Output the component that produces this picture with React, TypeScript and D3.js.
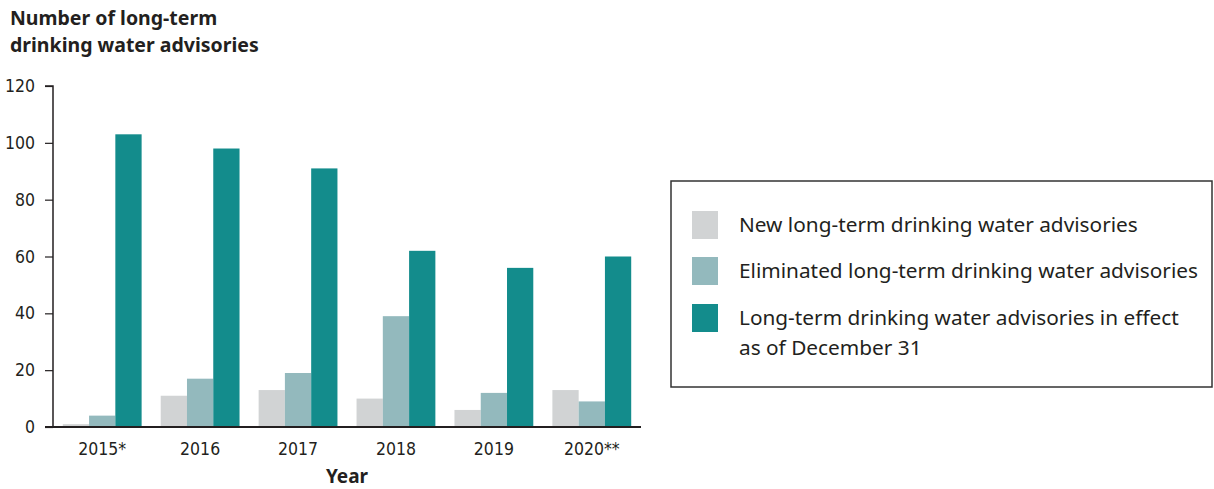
import React, { useEffect, useRef } from 'react';
import * as d3 from 'd3';

// data
const years = ['2015*', '2016', '2017', '2018', '2019', '2020**'];
const newAdvisories = [1, 11, 13, 10, 6, 13];
const eliminatedAdvisories = [4, 17, 19, 39, 12, 9];
const inEffectAdvisories = [103, 98, 91, 62, 56, 60];
const seriesNames = [
  ['New long-term drinking water advisories'],
  ['Eliminated long-term drinking water advisories'],
  ['Long-term drinking water advisories in effect', 'as of December 31'],
];
const yTicks = [0, 20, 40, 60, 80, 100, 120];

const colors = ['#d1d3d4', '#93b9bd', '#138c8c'];
const condensed = '"Liberation Sans Narrow", "DejaVu Sans Condensed", sans-serif';
const sans = '"Noto Sans", "Open Sans", sans-serif';

export default function App() {
  const ref = useRef<SVGSVGElement>(null);

  useEffect(() => {
    const width = 1214;
    const height = 489;
    const left = 53;
    const right = 641;
    const top = 86;
    const bottom = 427;

    const svg = d3.select(ref.current);
    svg.selectAll('*').remove();

    const x0 = d3.scaleBand<string>()
      .domain(years)
      .range([left, right])
      .paddingInner(0.195)
      .paddingOuter(0.1);

    const keys = ['new', 'elim', 'effect'];
    const x1 = d3.scaleBand<string>()
      .domain(keys)
      .range([0, x0.bandwidth()]);

    const y = d3.scaleLinear().domain([0, 120]).range([bottom, top]);

    const series = [newAdvisories, eliminatedAdvisories, inEffectAdvisories];

    // title
    const title = svg.append('text')
      .attr('x', 10)
      .attr('font-family', sans)
      .attr('font-weight', 700)
      .attr('font-size', 19.5)
      .attr('fill', '#231f20');
    title.append('tspan').attr('x', 10).attr('y', 25).text('Number of long-term');
    title.append('tspan').attr('x', 10).attr('y', 52).text('drinking water advisories');

    // bars
    years.forEach((yr, i) => {
      const g = svg.append('g').attr('transform', `translate(${x0(yr)},0)`);
      series.forEach((vals, s) => {
        g.append('rect')
          .attr('x', x1(keys[s])!)
          .attr('y', y(vals[i]))
          .attr('width', x1.bandwidth())
          .attr('height', y(0) - y(vals[i]))
          .attr('fill', colors[s]);
      });
    });

    // y axis
    const yAxis = d3.axisLeft(y).tickValues(yTicks).tickSize(8).tickPadding(10);
    const gy = svg.append('g')
      .attr('transform', `translate(${left},0)`)
      .call(yAxis);
    gy.select('.domain').attr('stroke', '#231f20').attr('stroke-width', 1.5)
      .attr('d', `M-8,${top}H0V${bottom}`);
    gy.selectAll('.tick line').attr('stroke', '#231f20').attr('stroke-width', 1.2);
    gy.selectAll('.tick text')
      .attr('font-family', condensed)
      .attr('font-size', 17.5)
      .attr('fill', '#231f20');

    // x axis
    const xAxis = d3.axisBottom(x0).tickSize(0).tickPadding(16);
    const gx = svg.append('g')
      .attr('transform', `translate(0,${bottom})`)
      .call(xAxis);
    gx.select('.domain').attr('stroke', '#231f20').attr('stroke-width', 2.2)
      .attr('d', `M${left - 8},0H${right}`);
    gx.selectAll('.tick text')
      .attr('font-family', condensed)
      .attr('font-size', 17.5)
      .attr('fill', '#231f20');

    svg.append('text')
      .attr('x', (left + right) / 2)
      .attr('y', 483)
      .attr('text-anchor', 'middle')
      .attr('font-family', sans)
      .attr('font-weight', 700)
      .attr('font-size', 19)
      .attr('fill', '#231f20')
      .text('Year');

    // legend
    const legend = svg.append('g');
    legend.append('rect')
      .attr('x', 671)
      .attr('y', 181)
      .attr('width', width - 671 - 2)
      .attr('height', 206)
      .attr('fill', 'none')
      .attr('stroke', '#333')
      .attr('stroke-width', 1.5);

    const rowY = [211, 257, 304];
    seriesNames.forEach((lines, s) => {
      legend.append('rect')
        .attr('x', 692)
        .attr('y', rowY[s])
        .attr('width', 26)
        .attr('height', 28)
        .attr('fill', colors[s]);
      lines.forEach((ln, k) => {
        legend.append('text')
          .attr('x', 739)
          .attr('y', rowY[s] + 21 + k * 30)
          .attr('font-family', sans)
          .attr('font-size', 20.8)
          .attr('fill', '#231f20')
          .text(ln);
      });
    });

    svg.attr('width', width).attr('height', height);
  }, []);

  return (
    <svg ref={ref} width={1214} height={489}
      style={{ position: 'absolute', left: 0, top: 0, display: 'block' }} />
  );
}
